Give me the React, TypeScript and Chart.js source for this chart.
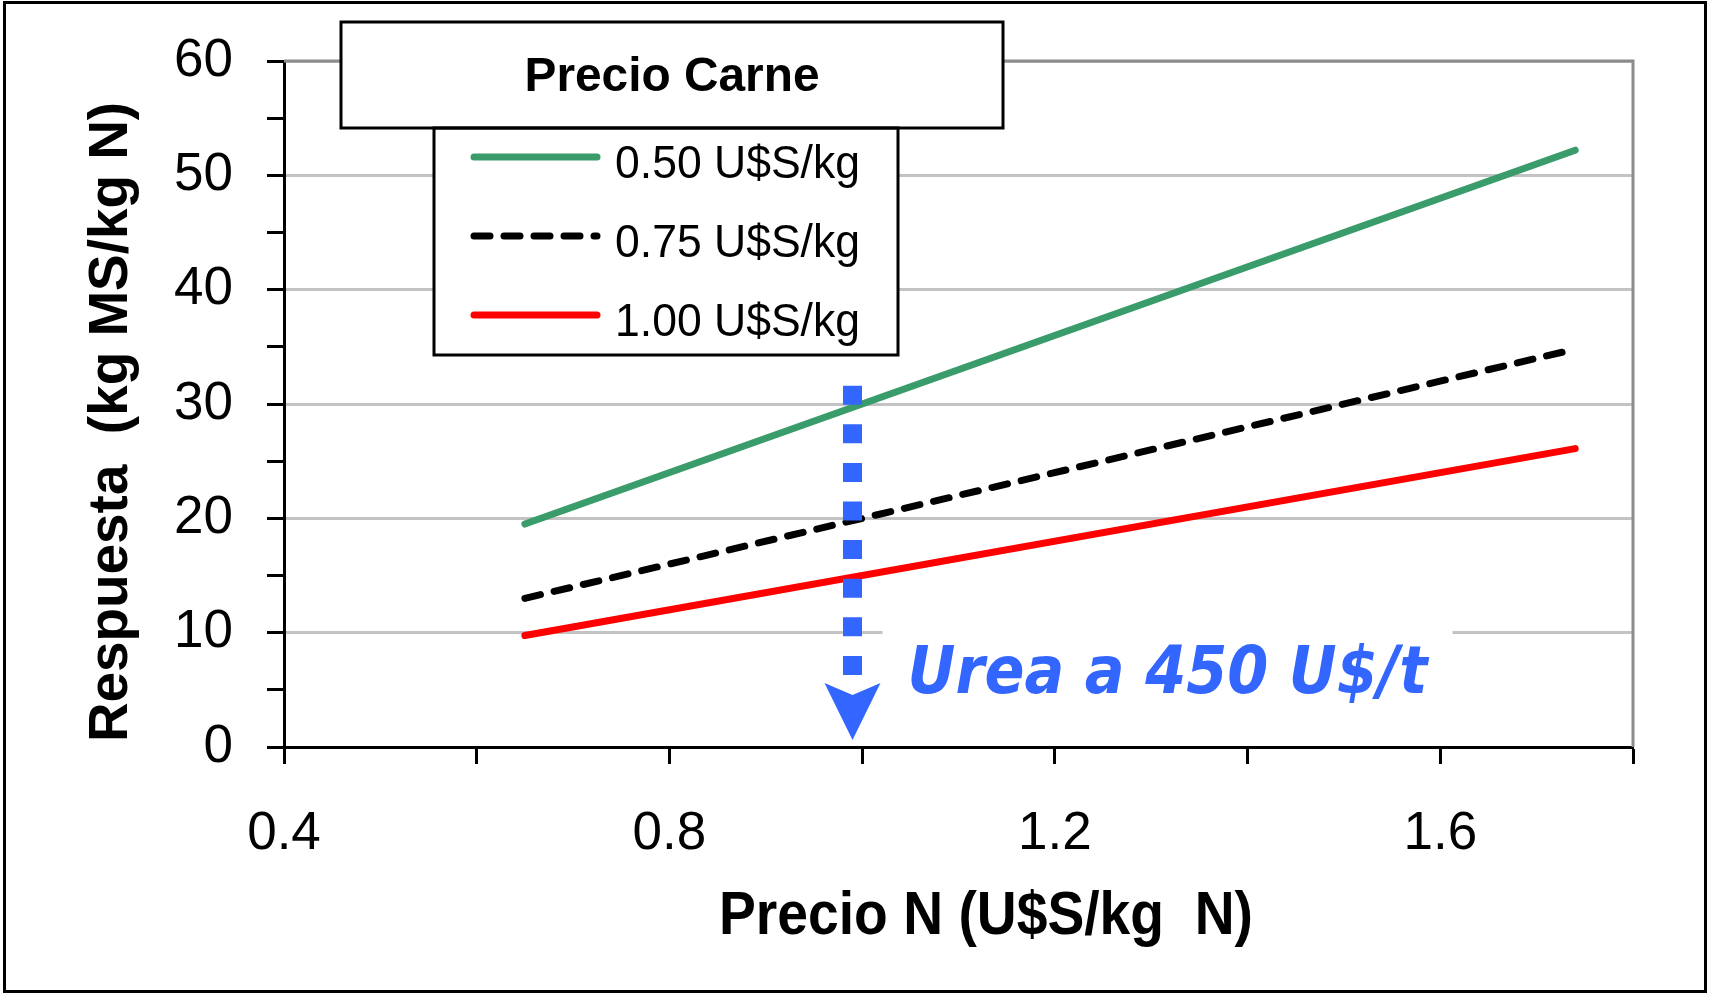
import React, { useEffect, useRef } from "react";
import { Chart, registerables } from "chart.js";

Chart.register(...registerables);

// N price (U$S/kg N) at the start and end of each response line
const precioN = [0.65, 1.74];
// Break-even response (kg MS/kg N) for each meat price
const resp050 = [19.5, 52.2];
const resp075 = [13.0, 34.8];
const resp100 = [9.75, 26.1];

const seriesLabels = ["0.50 U$S/kg", "0.75 U$S/kg", "1.00 U$S/kg"];
const legendTitle = "Precio Carne";
const xTitle = "Precio N (U$S/kg  N)";
const yTitle = "Respuesta  (kg MS/kg N)";

// Urea reference price marker
const ureaLabel = "Urea a 450 U$/t";
const ureaPrecioN = 0.99;
const ureaArrowTop = 31.6;

// Axis ticks
const xTicks = [0.4, 0.6, 0.8, 1.0, 1.2, 1.4, 1.6, 1.8];
const xTickLabels = [0.4, 0.8, 1.2, 1.6];
const yTicks = [0, 5, 10, 15, 20, 25, 30, 35, 40, 45, 50, 55, 60];
const yTickLabels = [0, 10, 20, 30, 40, 50, 60];

const W = 1709;
const H = 994;
const GREEN = "#3a9c6b";
const RED = "#ff0000";
const BLACK = "#000000";
const BLUE = "#3366ff";
const GRID = "#c3c3c3";
const FRAME = "#8c8c8c";
const SANS = '"Liberation Sans", Arial, sans-serif';
const VERDANA = '"DejaVu Sans", Verdana, sans-serif';

const seriesStyles = [
  { color: GREEN, dash: [] as number[] },
  { color: BLACK, dash: [16, 14] },
  { color: RED, dash: [] as number[] },
];

// draws a string squeezed horizontally so that it spans the given width
function fitText(ctx: CanvasRenderingContext2D, text: string, x: number, y: number, width: number, align: "left" | "center") {
  const w = ctx.measureText(text).width;
  const sx = Math.min(1, width / w);
  ctx.save();
  ctx.translate(x, y);
  ctx.scale(sx, 1);
  ctx.textAlign = align;
  ctx.textBaseline = "alphabetic";
  ctx.fillText(text, 0, 0);
  ctx.restore();
  return w * sx;
}

const decorPlugin = {
  id: "decor",
  beforeDatasetsDraw(chart: any) {
    const { ctx, chartArea: a, scales } = chart;
    const xs = scales.x;
    const ys = scales.y;
    ctx.save();
    // plot frame (top and right)
    ctx.strokeStyle = FRAME;
    ctx.lineWidth = 3;
    ctx.beginPath();
    ctx.moveTo(a.left, a.top);
    ctx.lineTo(a.right, a.top);
    ctx.lineTo(a.right, a.bottom);
    ctx.stroke();

    // urea label on a white panel
    const ax = xs.getPixelForValue(ureaPrecioN);
    const base = ys.getPixelForValue(0) - 54;
    const tx = ax + 55;
    ctx.fillStyle = "#ffffff";
    ctx.fillRect(ax + 30, base - 78, 570, 104);
    ctx.fillStyle = BLUE;
    ctx.font = `italic bold 66px ${VERDANA}`;
    fitText(ctx, ureaLabel, tx, base, 520, "left");
    ctx.restore();
  },
  afterDatasetsDraw(chart: any) {
    const { ctx, scales } = chart;
    const xs = scales.x;
    const ys = scales.y;
    const ax = xs.getPixelForValue(ureaPrecioN);
    const axisY = ys.getPixelForValue(0);
    const top = ys.getPixelForValue(ureaArrowTop);
    ctx.save();
    // dashed shaft
    ctx.strokeStyle = BLUE;
    ctx.lineWidth = 19;
    ctx.lineCap = "butt";
    ctx.setLineDash([19, 19.6]);
    ctx.beginPath();
    ctx.moveTo(ax, top);
    ctx.lineTo(ax, axisY - 72);
    ctx.stroke();
    ctx.setLineDash([]);
    // barbed head
    ctx.fillStyle = BLUE;
    ctx.beginPath();
    ctx.moveTo(ax - 28, axisY - 64);
    ctx.lineTo(ax, axisY - 52);
    ctx.lineTo(ax + 28, axisY - 64);
    ctx.lineTo(ax, axisY - 7);
    ctx.closePath();
    ctx.fill();

    // legend: title box and entry box
    ctx.fillStyle = "#ffffff";
    ctx.fillRect(341, 22, 662, 106);
    ctx.fillRect(434, 128, 464, 227);
    ctx.strokeStyle = BLACK;
    ctx.lineWidth = 3;
    ctx.strokeRect(341, 22, 662, 106);
    ctx.strokeRect(434, 128, 464, 227);
    ctx.fillStyle = BLACK;
    ctx.font = `bold 48px ${SANS}`;
    fitText(ctx, legendTitle, 672, 91, 295, "center");

    // legend entries
    const baselines = [178, 257, 336];
    ctx.font = `47px ${SANS}`;
    seriesLabels.forEach((label, i) => {
      const y = baselines[i] - 21;
      ctx.strokeStyle = seriesStyles[i].color;
      ctx.lineWidth = 7;
      ctx.lineCap = "round";
      ctx.setLineDash(seriesStyles[i].dash);
      ctx.beginPath();
      ctx.moveTo(474, y);
      ctx.lineTo(597, y);
      ctx.stroke();
      ctx.setLineDash([]);
      ctx.fillStyle = BLACK;
      fitText(ctx, label, 615, baselines[i], 245, "left");
    });
    ctx.restore();
  },
  afterDraw(chart: any) {
    const { ctx } = chart;
    ctx.save();
    ctx.fillStyle = BLACK;
    ctx.font = `bold 62px ${SANS}`;
    fitText(ctx, xTitle, 986, 934, 534, "center");

    ctx.translate(127, 422);
    ctx.rotate(-Math.PI / 2);
    ctx.font = `bold 56px ${SANS}`;
    fitText(ctx, yTitle, 0, 0, 640, "center");
    ctx.setTransform(1, 0, 0, 1, 0, 0);

    // outer frame
    ctx.strokeStyle = BLACK;
    ctx.lineWidth = 3;
    ctx.strokeRect(4.5, 2.5, W - 8, H - 5);
    ctx.restore();
  },
};

export default function App() {
  const canvasRef = useRef<HTMLCanvasElement | null>(null);

  useEffect(() => {
    const canvas = canvasRef.current;
    if (!canvas) return;
    const datasets = [resp050, resp075, resp100].map((vals, i) => ({
      label: seriesLabels[i],
      data: precioN.map((x, j) => ({ x, y: vals[j] })),
      borderColor: seriesStyles[i].color,
      borderWidth: 7,
      borderDash: seriesStyles[i].dash,
      borderCapStyle: "round" as const,
      pointRadius: 0,
      fill: false,
      tension: 0,
    }));

    const tickFont = { family: SANS, size: 53 };

    const chart = new Chart(canvas, {
      type: "line",
      data: { datasets },
      options: {
        animation: false,
        responsive: false,
        events: [],
        layout: { padding: { left: 0, right: 76, top: 61, bottom: 0 } },
        plugins: {
          legend: { display: false },
          tooltip: { enabled: false },
          title: { display: false },
        },
        scales: {
          x: {
            type: "linear",
            min: 0.4,
            max: 1.8,
            afterBuildTicks: (s: any) => {
              s.ticks = xTicks.map((v) => ({ value: v }));
            },
            afterFit: (s: any) => {
              s.height = 247;
              s.paddingLeft = 0;
              s.paddingRight = 0;
            },
            ticks: {
              color: BLACK,
              font: tickFont,
              padding: 39,
              maxRotation: 0,
              autoSkip: false,
              callback: (v: any) => {
                const n = Math.round(Number(v) * 10) / 10;
                return xTickLabels.some((t) => Math.abs(t - n) < 1e-6) ? n.toFixed(1) : "";
              },
            },
            grid: {
              drawOnChartArea: false,
              tickColor: BLACK,
              tickLength: 17,
              tickWidth: 3,
            },
            border: { color: BLACK, width: 3 },
          },
          y: {
            type: "linear",
            min: 0,
            max: 60,
            afterBuildTicks: (s: any) => {
              s.ticks = yTicks.map((v) => ({ value: v }));
            },
            afterFit: (s: any) => {
              s.width = 284;
              s.paddingTop = 0;
              s.paddingBottom = 0;
            },
            ticks: {
              color: BLACK,
              font: tickFont,
              padding: 34,
              autoSkip: false,
              callback: (v: any) => (yTickLabels.includes(Number(v)) ? String(v) : ""),
            },
            grid: {
              color: (c: any) =>
                c.tick && yTickLabels.includes(c.tick.value) ? GRID : "rgba(0,0,0,0)",
              lineWidth: 3,
              tickColor: BLACK,
              tickLength: 17,
              tickWidth: 3,
            },
            border: { color: BLACK, width: 3 },
          },
        },
      },
      plugins: [decorPlugin],
    });
    return () => chart.destroy();
  }, []);

  return (
    <div style={{ position: "absolute", left: 0, top: 0, width: W, height: H, background: "#ffffff" }}>
      <canvas ref={canvasRef} width={W} height={H} style={{ display: "block" }} />
    </div>
  );
}
